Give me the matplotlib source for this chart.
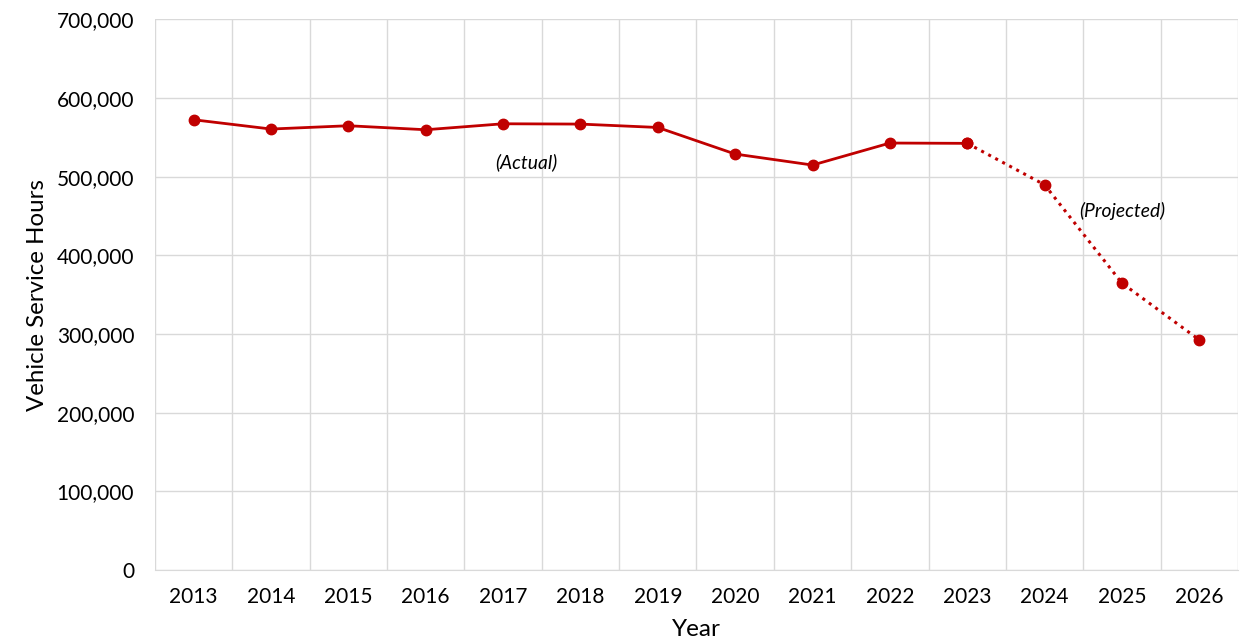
import matplotlib
matplotlib.use("Agg")
import matplotlib.pyplot as plt
from matplotlib.ticker import FuncFormatter, MultipleLocator
import numpy as np

years = ["2013", "2014", "2015", "2016", "2017", "2018", "2019",
         "2020", "2021", "2022", "2023", "2024", "2025", "2026"]
actual = [572500, 560700, 564900, 559800, 567400, 567000, 562700,
          528900, 514900, 542900, 542500]
projected = [542500, 489800, 364800, 292600]

plt.rcParams['font.family'] = ['Lato', 'DejaVu Sans']

fig = plt.figure(figsize=(12.51, 6.43), dpi=100)
ax = fig.add_axes([0.1239, 0.1135, 0.8657, 0.8562])

red = "#C00000"
x = np.arange(len(years))
xa = x[:len(actual)]
xp = x[len(actual) - 1:]

ax.plot(xp, projected, color=red, linestyle=(0, (1, 1.6)), linewidth=2.2,
        marker="o", markersize=7.5, zorder=3)
ax.plot(xa, actual, color=red, linewidth=2.0, marker="o", markersize=7.5, zorder=4)

ax.set_xlim(-0.5, len(years) - 0.5)
ax.set_ylim(0, 700000)
ax.yaxis.set_major_locator(MultipleLocator(100000))
ax.yaxis.set_major_formatter(FuncFormatter(lambda v, p: f"{int(v):,}"))
ax.set_xticks(x)
ax.set_xticklabels(years)
ax.set_xticks(np.arange(-0.5, len(years), 1.0), minor=True)

ax.grid(axis="y", which="major", color="#d9d9d9", linewidth=1.0)
ax.grid(axis="x", which="minor", color="#d9d9d9", linewidth=1.0)
ax.grid(axis="x", which="major", visible=False)
ax.set_axisbelow(True)
for s in ax.spines.values():
    s.set_visible(False)
ax.spines["bottom"].set_visible(True)
ax.spines["bottom"].set_color("#d9d9d9")

ax.tick_params(axis="both", which="both", length=0, labelsize=15, colors="black")
ax.tick_params(axis="y", pad=15)
ax.tick_params(axis="x", pad=12)

ax.set_xlabel("Year", fontsize=17.5, labelpad=9)
ax.set_ylabel("Vehicle Service Hours", fontsize=17.3, labelpad=6)

ax.text(4.3, 519000, "(Actual)", style="italic", fontsize=13.9, ha="center", va="center")
ax.text(12.0, 456700, "(Projected)", style="italic", fontsize=13.9, ha="center", va="center")

fig.savefig("out.png", dpi=100)
